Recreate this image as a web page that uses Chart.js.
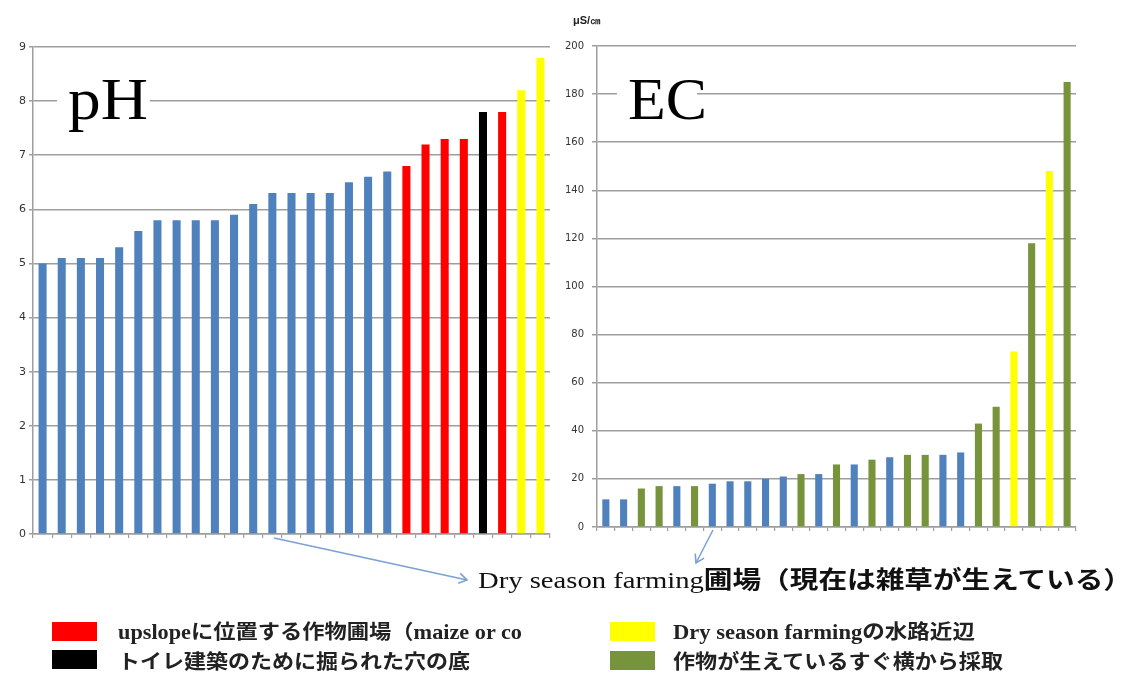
<!DOCTYPE html>
<html><head><meta charset="utf-8">
<script src="https://cdn.jsdelivr.net/npm/chart.js@4.4.0/dist/chart.umd.min.js"></script>
<style>
html,body{margin:0;padding:0;background:#fff;width:1136px;height:677px;overflow:hidden;}
#c1{position:absolute;left:0;top:0;}
#c2{position:absolute;left:556px;top:0;}
#ov{position:absolute;left:0;top:0;pointer-events:none;}
</style></head><body>
<canvas id="c1" width="556" height="560"></canvas>
<canvas id="c2" width="580" height="560"></canvas>
<svg id="ov" width="1136" height="677" xmlns="http://www.w3.org/2000/svg">
  <defs>
    <marker id="ah" markerWidth="12" markerHeight="12" refX="9" refY="6" orient="auto" markerUnits="userSpaceOnUse">
      <path d="M1,1 L9,6 L1,11" fill="none" stroke="#7aa0d4" stroke-width="1.6"/>
    </marker>
  </defs>
  <!-- big labels with white backing -->
  <rect x="57" y="76" width="93" height="52" fill="#fff"/>
  <text x="68" y="119" font-family="Liberation Serif, DejaVu Serif, serif" font-size="60" textLength="80" lengthAdjust="spacingAndGlyphs" fill="#000">pH</text>
  <rect x="617" y="76" width="80" height="48" fill="#fff"/>
  <text x="628" y="119" font-family="Liberation Serif, DejaVu Serif, serif" font-size="60" textLength="79" lengthAdjust="spacingAndGlyphs" fill="#000">EC</text>
  <!-- unit -->
  <text x="587" y="24" text-anchor="middle" font-family="Liberation Sans, sans-serif" font-size="11" font-weight="bold" fill="#222">μS/㎝</text>
  <!-- arrows -->
  <line x1="274" y1="538" x2="467" y2="580" stroke="#7aa0d4" stroke-width="1.5" marker-end="url(#ah)"/>
  <line x1="713" y1="530" x2="696" y2="563" stroke="#7aa0d4" stroke-width="1.5" marker-end="url(#ah)"/>
  <!-- annotation -->
  <text x="478" y="588" font-family="Liberation Serif, 'Noto Sans CJK JP', serif" font-size="24" textLength="654" lengthAdjust="spacingAndGlyphs" fill="#111">Dry season farming<tspan font-family="'Noto Sans CJK JP', sans-serif" font-weight="bold">圃場（現在は雑草が生えている）</tspan></text>
  <!-- legend -->
  <rect x="52" y="622" width="45" height="19" fill="#ff0000"/>
  <text x="118" y="639" font-family="Liberation Serif, 'Noto Sans CJK JP', serif" font-size="20" font-weight="bold" textLength="404" lengthAdjust="spacingAndGlyphs" fill="#222">upslope<tspan font-family="'Noto Sans CJK JP', sans-serif">に位置する作物圃場（</tspan>maize or co</text>
  <rect x="52" y="650" width="45" height="19" fill="#000000"/>
  <text x="118" y="669" font-family="'Noto Sans CJK JP', sans-serif" font-size="20" font-weight="bold" textLength="352" lengthAdjust="spacingAndGlyphs" fill="#222">トイレ建築のために掘られた穴の底</text>
  <rect x="610" y="622" width="45" height="19" fill="#ffff00"/>
  <text x="673" y="639" font-family="Liberation Serif, 'Noto Sans CJK JP', serif" font-size="20" font-weight="bold" textLength="302" lengthAdjust="spacingAndGlyphs" fill="#222">Dry season farming<tspan font-family="'Noto Sans CJK JP', sans-serif">の水路近辺</tspan></text>
  <rect x="610" y="651" width="45" height="19" fill="#77933c"/>
  <text x="673" y="669" font-family="'Noto Sans CJK JP', sans-serif" font-size="20" font-weight="bold" textLength="330" lengthAdjust="spacingAndGlyphs" fill="#222">作物が生えているすぐ横から採取</text>
</svg>
<script>
// ---- data ----
const phCategories = ['1','2','3','4','5','6','7','8','9','10','11','12','13','14','15','16','17','18','19','20','21','22','23','24','25','26','27'];
const phValues = [5.0,5.1,5.1,5.1,5.3,5.6,5.8,5.8,5.8,5.8,5.9,6.1,6.3,6.3,6.3,6.3,6.5,6.6,6.7,6.8,7.2,7.3,7.3,7.8,7.8,8.2,8.8];
const phGroups = ['B','B','B','B','B','B','B','B','B','B','B','B','B','B','B','B','B','B','B','R','R','R','R','K','R','Y','Y'];
const phTicks = [0,1,2,3,4,5,6,7,8,9];

const ecCategories = ['1','2','3','4','5','6','7','8','9','10','11','12','13','14','15','16','17','18','19','20','21','22','23','24','25','26','27'];
const ecValues = [11.5,11.5,16,17,17,17,18,19,19,20,21,22,22,26,26,28,29,30,30,30,31,43,50,73,118,148,185];
const ecGroups = ['B','B','G','G','B','G','B','B','B','B','B','G','B','G','B','G','B','G','G','B','B','G','G','Y','G','Y','G'];
const ecTicks = [0,20,40,60,80,100,120,140,160,180,200];

const COLORS = {B:'#4f81bd', R:'#ff0000', K:'#000000', Y:'#ffff00', G:'#77933c'};
const GRID = '#9e9e9e';

function makeChart(id, cats, values, groups, ticksArr, cfg) {
  return new Chart(document.getElementById(id), {
    type: 'bar',
    data: {
      labels: cats,
      datasets: [{
        data: values,
        backgroundColor: groups.map(g => COLORS[g]),
        borderWidth: 0,
        barPercentage: cfg.barPct,
        categoryPercentage: 1
      }]
    },
    options: {
      responsive: false,
      animation: false,
      events: [],
      layout: { padding: cfg.padding },
      plugins: { legend: { display: false }, tooltip: { enabled: false } },
      scales: {
        x: {
          ticks: { display: false },
          grid: { display: true, drawOnChartArea: false, offset: true, tickLength: 4, color: GRID, lineWidth: 1.2 },
          border: { color: GRID, width: 1.5 },
          afterFit(s) { s.height = 6; }
        },
        y: {
          min: ticksArr[0],
          max: ticksArr[ticksArr.length - 1],
          afterBuildTicks(s) { s.ticks = ticksArr.map(v => ({ value: v })); },
          ticks: { font: { family: 'DejaVu Sans', size: cfg.fontSize }, color: '#333', padding: cfg.tickPad },
          grid: { color: GRID, lineWidth: 1.5, tickLength: cfg.tickLen },
          border: { color: GRID, width: 1.5 },
          afterFit(s) { s.width = cfg.yWidth; }
        }
      }
    }
  });
}

makeChart('c1', phCategories, phValues, phGroups, phTicks,
  { barPct: 0.42, padding: { top: 47, right: 6, bottom: 20, left: 0 }, yWidth: 33, tickPad: 3, tickLen: 4, fontSize: 11 });
makeChart('c2', ecCategories, ecValues, ecGroups, ecTicks,
  { barPct: 0.40, padding: { top: 46, right: 60, bottom: 27, left: 0 }, yWidth: 41, tickPad: 8, tickLen: 5, fontSize: 10 });
</script>
</body></html>
